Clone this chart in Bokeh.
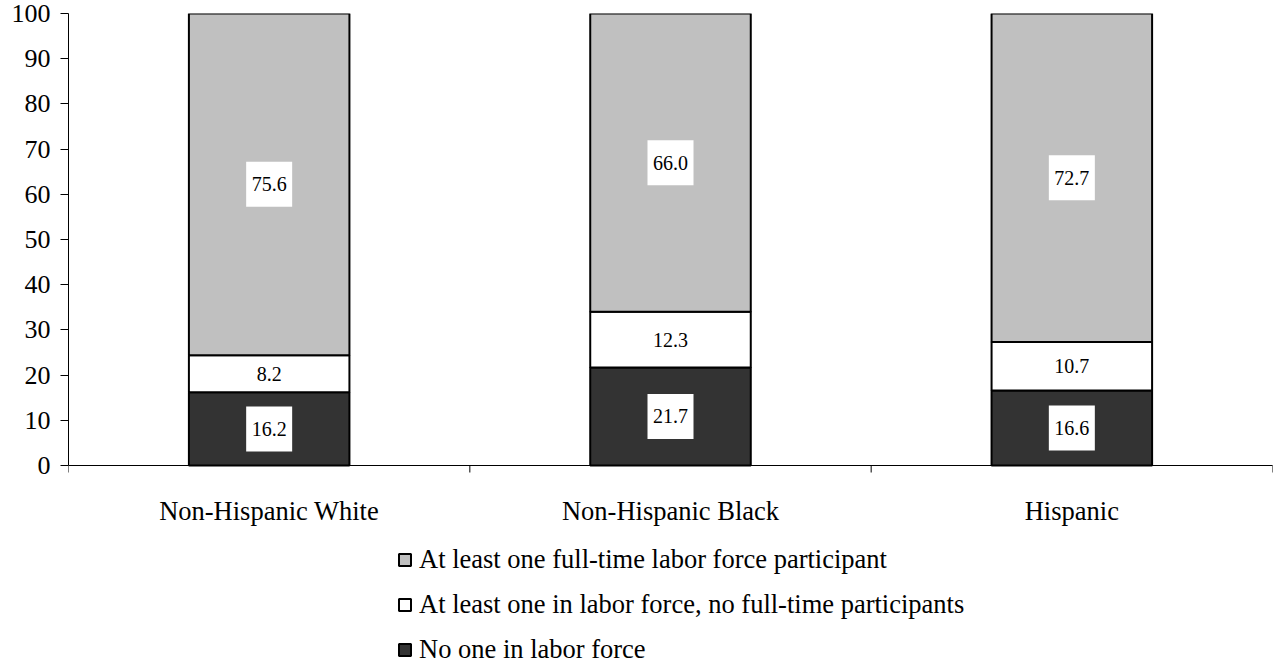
from bokeh.plotting import figure
from bokeh.models import (ColumnDataSource, FixedTicker, Legend, LegendItem,
                          Range1d)
from bokeh.core.properties import value
from bokeh.embed import file_html
from bokeh.resources import INLINE

# Household labor force status by race / ethnicity (percent)
groups = ["Non-Hispanic White", "Non-Hispanic Black", "Hispanic"]
no_one = [16.2, 21.7, 16.6]
part_time_only = [8.2, 12.3, 10.7]
full_time = [75.6, 66.0, 72.7]

series_names = ["no_one", "part_time_only", "full_time"]
series_values = {"no_one": no_one, "part_time_only": part_time_only,
                 "full_time": full_time}
series_labels = {
    "full_time": "At least one full-time labor force participant",
    "part_time_only": "At least one in labor force, no full-time participants",
    "no_one": "No one in labor force",
}
series_colors = {"no_one": "#333333", "part_time_only": "#ffffff",
                 "full_time": "#c0c0c0"}
y_ticks = [0, 10, 20, 30, 40, 50, 60, 70, 80, 90, 100]

FONT = "Liberation Serif"

# the plotting frame runs to the bottom of the page so the legend can sit
# beneath the bars; 100 percentage points span 452 px
PLOT_PX = 452
FRAME_PX = 651
y_low = -(FRAME_PX - PLOT_PX) * 100 / PLOT_PX

xs = [i + 0.5 for i in range(len(groups))]
bounds = list(range(len(groups) + 1))
source = ColumnDataSource(dict(x=xs, **series_values))

p = figure(frame_width=1204, frame_height=FRAME_PX, output_backend="svg",
           toolbar_location=None, x_axis_location=None,
           x_range=Range1d(0, len(groups)), y_range=Range1d(y_low, 100),
           min_border_left=68, min_border_right=8, min_border_top=13,
           min_border_bottom=0)
p.outline_line_color = None
p.grid.visible = False
p.background_fill_color = "white"
p.border_fill_color = "white"

renderers = p.vbar_stack(series_names, x="x", width=0.4, source=source,
                         fill_color=[series_colors[s] for s in series_names],
                         line_color="black", line_width=2)

# value labels centred in each segment, on white boxes over shaded segments
lab_x, lab_y, lab_t, box_x, box_y = [], [], [], [], []
for i, x in enumerate(xs):
    base = 0.0
    for s in series_names:
        v = series_values[s][i]
        mid = base + v / 2
        lab_x.append(x)
        lab_y.append(mid)
        lab_t.append(f"{v:.1f}")
        if s != "part_time_only":
            box_x.append(x)
            box_y.append(mid)
        base += v

p.rect(x=box_x, y=box_y, width=46, height=45, width_units="screen",
       height_units="screen", fill_color="white", line_color=None)
p.text(x=lab_x, y=lab_y, text=lab_t, text_font=value(FONT),
       text_font_size=value("20px"), text_align="center",
       text_baseline="middle", text_color="black")

# category axis along y = 0: base line, boundary ticks and group names
p.ray(x=[0], y=[0], length=0, angle=0, line_color="black", line_width=1)
p.ray(x=bounds, y=[0] * len(bounds), length=7, length_units="screen",
      angle=-90, angle_units="deg", line_color="black", line_width=1)
p.text(x=xs, y=[0] * len(xs), text=groups, y_offset=45,
       text_font=value(FONT), text_font_size=value("26.5px"),
       text_align="center", text_baseline="middle", text_color="black")

# value axis
p.yaxis.bounds = (0, 100)
p.yaxis.ticker = FixedTicker(ticks=y_ticks)
p.yaxis.major_label_text_font = FONT
p.yaxis.major_label_text_font_size = "26px"
p.yaxis.major_label_text_color = "black"
p.yaxis.major_tick_out = 8
p.yaxis.major_tick_in = 0
p.yaxis.minor_tick_line_color = None
p.yaxis.axis_line_color = "black"
p.yaxis.major_tick_line_color = "black"
p.yaxis.major_label_standoff = 10

rmap = dict(zip(series_names, renderers))
legend = Legend(items=[LegendItem(label=series_labels[s], renderers=[rmap[s]])
                       for s in ["full_time", "part_time_only", "no_one"]],
                location=(329, -1), orientation="vertical",
                border_line_color=None, background_fill_alpha=0,
                padding=0, margin=0, spacing=14, glyph_width=15, glyph_height=15,
                label_standoff=7, label_text_font=FONT,
                label_text_font_size="26.5px", label_text_color="black")
p.add_layout(legend, "center")

open("out.html", "w").write(file_html(p, INLINE))
